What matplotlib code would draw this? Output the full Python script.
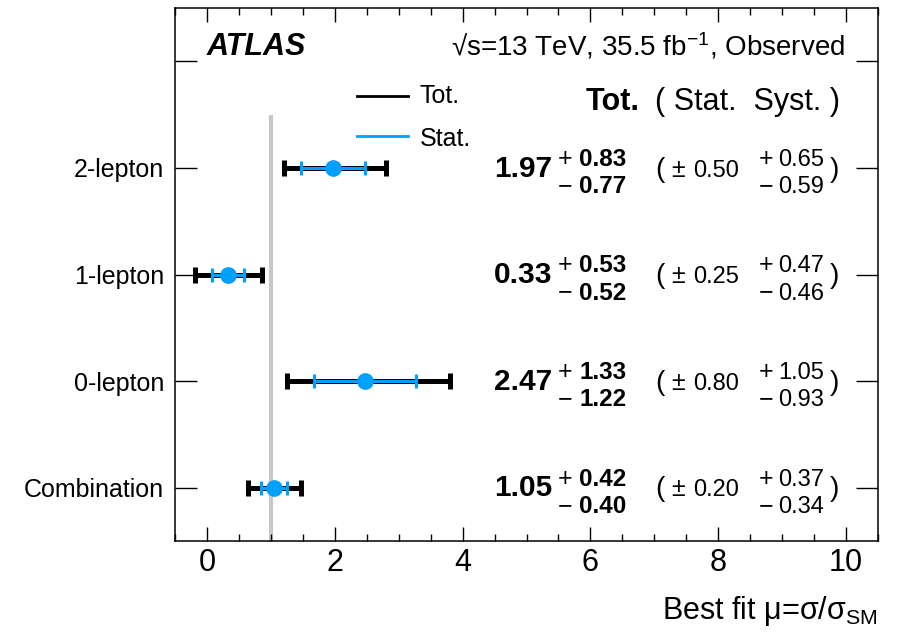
import numpy as np
import matplotlib
matplotlib.use("Agg")
import matplotlib.pyplot as plt
from matplotlib.ticker import MultipleLocator, FixedLocator

plt.rcParams['font.family'] = ['Liberation Sans', 'DejaVu Sans']
plt.rcParams['mathtext.fontset'] = 'custom'
plt.rcParams['mathtext.rm'] = 'Liberation Sans'
plt.rcParams['mathtext.it'] = 'Liberation Sans:italic'
plt.rcParams['mathtext.bf'] = 'Liberation Sans:bold'

# data: best fit mu per channel (bottom to top)
channels = ["Combination", "0-lepton", "1-lepton", "2-lepton"]
mu = np.array([1.05, 2.47, 0.33, 1.97])
tot_up = np.array([0.42, 1.33, 0.53, 0.83])
tot_dn = np.array([0.40, 1.22, 0.52, 0.77])
stat = np.array([0.20, 0.80, 0.25, 0.50])
syst_up = np.array([0.37, 1.05, 0.47, 0.65])
syst_dn = np.array([0.34, 0.93, 0.46, 0.59])

blue = '#00a0ff'
ypos = np.arange(len(channels))

fig = plt.figure(figsize=(9.08, 6.38), dpi=100)
ax = fig.add_axes([175/908, 1-541/638, 703/908, 533/638])

# SM reference line
ax.axvline(1.0, ymax=0.795, color='#c8c8c8', lw=3, zorder=0)

# total and stat error bars
ax.errorbar(mu, ypos, xerr=[tot_dn, tot_up], fmt='none', ecolor='black',
            elinewidth=3.6, capsize=5.6, capthick=3.6, zorder=2)
ax.errorbar(mu, ypos, xerr=[stat, stat], fmt='none', ecolor=blue,
            elinewidth=2.2, capsize=4.8, capthick=2.2, zorder=3)
ax.plot(mu, ypos, 'o', color=blue, markersize=11, zorder=4)

ax.set_xlim(-0.5, 10.5)
ax.set_ylim(-0.5, 4.5)
ax.xaxis.set_major_locator(MultipleLocator(2))
ax.xaxis.set_minor_locator(MultipleLocator(0.5))
ax.yaxis.set_major_locator(FixedLocator(list(ypos) + [4]))
ax.set_yticklabels(channels + [""])
ax.tick_params(axis='x', which='major', direction='in', length=10, width=1,
               top=True, labelsize=22, pad=5)
ax.tick_params(axis='x', which='minor', direction='in', length=5, width=1, top=True)
ax.tick_params(axis='y', which='major', direction='in', length=16, width=1,
               right=True, labelsize=18, pad=8)
for s in ax.spines.values():
    s.set_linewidth(1.1)

ax.set_xlabel(r'Best fit μ=σ/σ$_{\mathrm{SM}}$', fontsize=22)
ax.xaxis.set_label_coords(1.0, -0.1)
ax.xaxis.label.set_horizontalalignment('right')

# header texts
ax.text(0.0455, 0.9118, 'ATLAS', transform=ax.transAxes, fontsize=22,
        fontweight='bold', fontstyle='italic', va='baseline')
ax.text(0.953, 0.9118, r'√s=13 TeV, 35.5 fb$^{\mathrm{-1}}$, Observed',
        transform=ax.transAxes, fontsize=20, ha='right', va='baseline')

# legend drawn by hand
ax.plot([0.2589, 0.3314], [0.8349, 0.8349], transform=ax.transAxes,
        color='black', lw=2, clip_on=False)
ax.plot([0.2589, 0.3314], [0.7598, 0.7598], transform=ax.transAxes,
        color=blue, lw=2, clip_on=False)
ax.text(0.3485, 0.8218, 'Tot.', transform=ax.transAxes, fontsize=18, va='baseline')
ax.text(0.3485, 0.7411, 'Stat.', transform=ax.transAxes, fontsize=18, va='baseline')

ax.text(0.6615, 0.8086, 'Tot.', transform=ax.transAxes, fontsize=22,
        fontweight='bold', ha='right', va='baseline')
ax.text(0.6828, 0.8086, '( Stat.  Syst. )', transform=ax.transAxes,
        fontsize=22, va='baseline')


def put(txt, xf, y, dy_px, **kw):
    ax.annotate(txt, xy=(xf, y), xycoords=('axes fraction', 'data'),
                xytext=(0, dy_px * 0.72), textcoords='offset points',
                va='baseline', **kw)


for i, y in enumerate(ypos):
    put(f'{mu[i]:.2f}', 0.5363, y, -8.7, fontsize=21.5, fontweight='bold', ha='right')
    put('+', 0.5548, y, 2, fontsize=18, ha='center')
    put('−', 0.5548, y, -25, fontsize=18, ha='center')
    put(f'{tot_up[i]:.2f}', 0.5747, y, 2, fontsize=17.5, fontweight='bold')
    put(f'{tot_dn[i]:.2f}', 0.5747, y, -25, fontsize=17.5, fontweight='bold')
    put('(', 0.6828, y, -8.7, fontsize=20)
    put('±', 0.7162, y, -8.7, fontsize=18, ha='center')
    put(f'{stat[i]:.2f}', 0.7368, y, -8.7, fontsize=17)
    put('+', 0.8407, y, 2, fontsize=18, ha='center')
    put('−', 0.8407, y, -25, fontsize=18, ha='center')
    put(f'{syst_up[i]:.2f}', 0.8578, y, 2, fontsize=17)
    put(f'{syst_dn[i]:.2f}', 0.8578, y, -25, fontsize=17)
    put(')', 0.9317, y, -8.7, fontsize=20)

fig.savefig('out.png', dpi=100)
